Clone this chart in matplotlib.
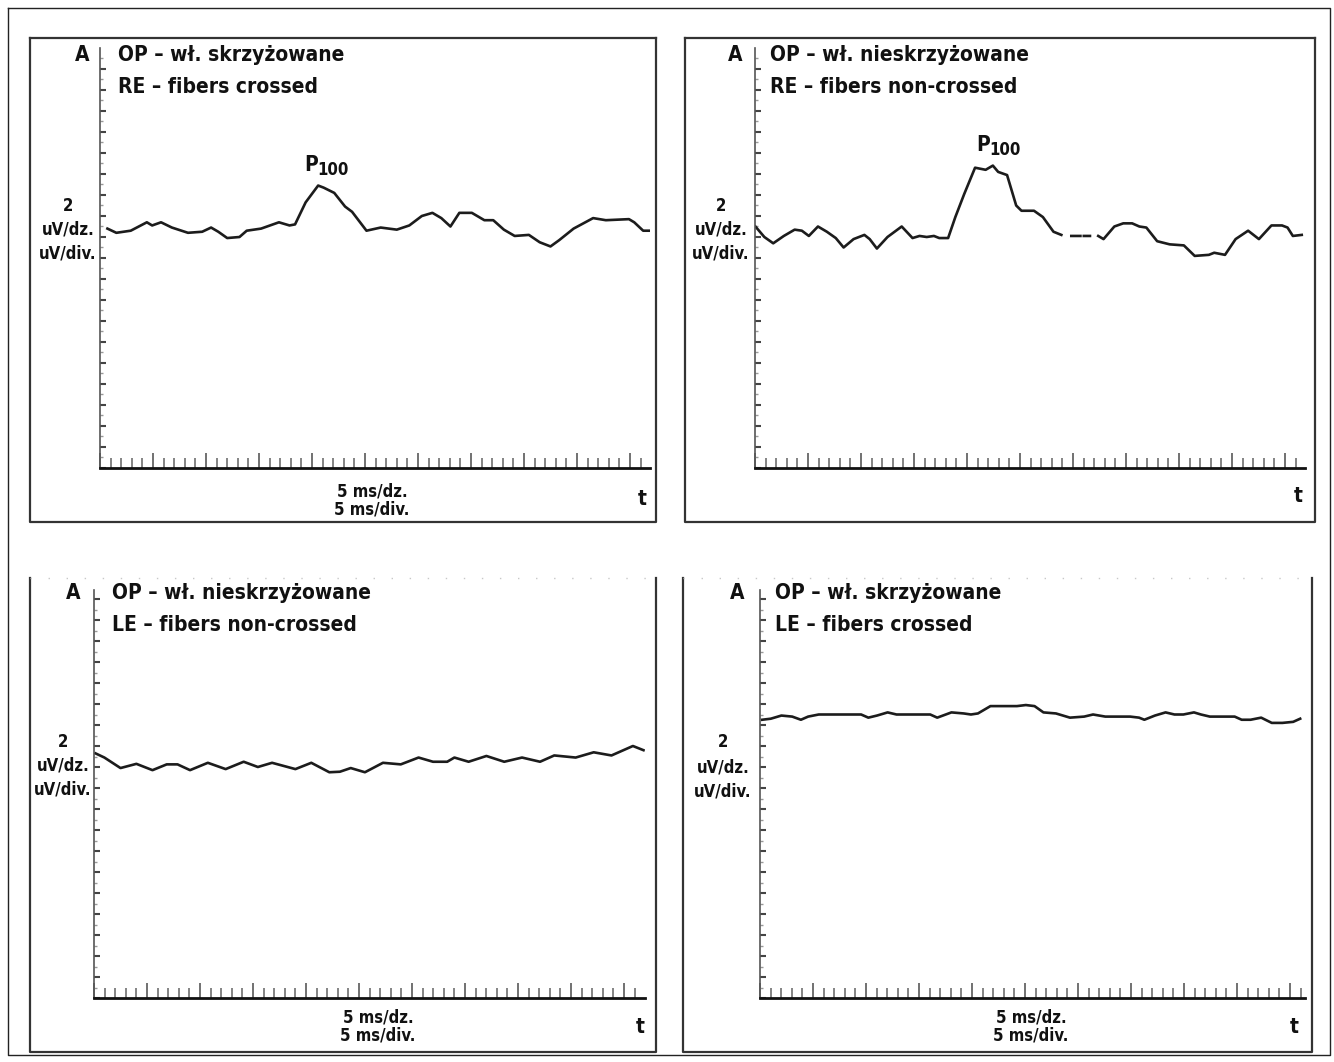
import os
import numpy as np
import matplotlib
matplotlib.use("Agg")
import matplotlib.pyplot as plt
from matplotlib import font_manager
from matplotlib.font_manager import FontProperties

W, H = 1334, 1062

# time in ms, amplitude in uV (measured from the time axis)
t_re_crossed = [3.5, 7.7, 14.5, 22.1, 24.6, 28.8, 33.9, 41.5, 48.2, 52.4, 55.8, 60.0, 65.8, 69.2,
                76.0, 84.4, 89.4, 92.0, 97.0, 102.9, 105.5, 110.5, 115.6, 118.9, 125.7, 132.4,
                140.0, 145.9, 151.8, 156.8, 161.0, 165.3, 169.5, 175.4, 181.3, 185.5, 190.5,
                195.6, 202.3, 207.4, 212.5, 216.6, 223.4, 232.6, 238.6, 249.5, 252.0, 256.2, 259.6]
a_re_crossed = [22.8, 22.4, 22.6, 23.4, 23.1, 23.4, 22.9, 22.4, 22.5, 22.9, 22.5, 21.9, 22.0, 22.6,
                22.8, 23.4, 23.1, 23.2, 25.3, 26.9, 26.7, 26.2, 24.9, 24.4, 22.6, 22.9,
                22.7, 23.1, 24.0, 24.3, 23.8, 23.0, 24.3, 24.3, 23.6, 23.6, 22.7,
                22.1, 22.2, 21.5, 21.1, 21.7, 22.8, 23.8, 23.6, 23.7, 23.4, 22.6, 22.6]

# nan = broken part of the recorded trace
t_re_noncrossed = [0.2, 4.4, 8.6, 13.6, 18.7, 22.1, 25.4, 29.7, 33.9, 38.1, 41.8, 46.5, 51.6, 54.1,
                   57.5, 62.5, 69.2, 74.3, 77.6, 81.0, 84.4, 86.9, 91.1, 94.5, 98.7, 103.8, 106.3,
                   108.8, 112.2, 114.7, 118.9, 123.2, 125.7, 131.6, 135.8, 140.8, 144.5, np.nan,
                   149.2, 153.5, np.nan, 155.1, 158.0, np.nan, 161.9, 164.4, 169.5, 173.7, 177.9,
                   181.3, 184.6, 189.7, 195.6, 202.3, 207.4, 214.1, 216.6, 221.7, 226.7, 232.6,
                   237.7, 243.6, 248.6, 251.2, 253.7, 257.9]
a_re_noncrossed = [23.0, 22.0, 21.4, 22.1, 22.7, 22.6, 22.1, 23.0, 22.5, 21.9, 21.0, 21.8, 22.2, 21.8,
                   20.9, 22.0, 23.0, 21.9, 22.1, 22.0, 22.1, 21.9, 21.9, 23.9, 26.1, 28.6, 28.5,
                   28.4, 28.8, 28.2, 27.9, 25.0, 24.5, 24.5, 23.9, 22.5, 22.2, np.nan,
                   22.1, 22.1, np.nan, 22.1, 22.1, np.nan, 22.1, 21.8, 23.0, 23.3, 23.3,
                   23.0, 22.9, 21.6, 21.3, 21.2, 20.2, 20.3, 20.5, 20.3, 21.8, 22.6,
                   21.8, 23.1, 23.1, 22.9, 22.1, 22.2]

t_le_noncrossed = [0.7, 4.9, 12.5, 20.0, 27.6, 34.3, 39.4, 45.3, 53.7, 62.1, 70.6, 77.3, 84.0, 95.0,
                   102.5, 111.0, 116.0, 121.1, 127.8, 136.3, 144.7, 153.1, 159.9, 166.6, 170.0,
                   176.7, 185.1, 193.5, 201.9, 210.4, 217.1, 227.2, 235.7, 244.1, 254.2, 259.2]
a_le_noncrossed = [23.3, 22.9, 21.9, 22.3, 21.7, 22.25, 22.25, 21.7, 22.4, 21.8, 22.5, 22.0, 22.4, 21.8,
                   22.4, 21.5, 21.55, 21.9, 21.5, 22.4, 22.25, 22.9, 22.5, 22.5, 22.9,
                   22.5, 23.05, 22.5, 22.9, 22.5, 23.1, 22.9, 23.4, 23.1, 24.0, 23.6]

t_le_crossed = [1.0, 5.1, 10.1, 15.2, 19.3, 22.7, 27.7, 33.5, 40.2, 47.7, 51.1, 55.2, 60.2, 64.4,
                71.1, 80.3, 83.6, 90.3, 96.1, 99.5, 102.8, 108.7, 114.5, 121.2, 125.4, 129.5,
                133.7, 139.6, 146.2, 152.9, 157.1, 162.9, 174.6, 178.8, 181.3, 186.3, 191.3,
                195.5, 199.7, 204.7, 208.0, 212.2, 223.9, 227.2, 231.4, 236.4, 241.4, 246.4,
                251.5, 254.8]
a_le_crossed = [26.5, 26.6, 26.9, 26.8, 26.5, 26.8, 27.0, 27.0, 27.0, 27.0, 26.7, 26.9, 27.2, 27.0,
                27.0, 27.0, 26.7, 27.2, 27.1, 27.0, 27.1, 27.8, 27.8, 27.8, 27.9, 27.8,
                27.2, 27.1, 26.7, 26.8, 27.0, 26.8, 26.8, 26.7, 26.5, 26.9, 27.2,
                27.0, 27.0, 27.2, 27.0, 26.8, 26.8, 26.5, 26.5, 26.7, 26.2, 26.2,
                26.3, 26.6]

titles = [("OP – wł. skrzyżowane", "RE – fibers crossed"),
          ("OP – wł. nieskrzyżowane", "RE – fibers non-crossed"),
          ("OP – wł. nieskrzyżowane", "LE – fibers non-crossed"),
          ("OP – wł. skrzyżowane", "LE – fibers crossed")]
amp_label = ["2", "uV/dz.", "uV/div."]
time_label = ["5 ms/dz.", "5 ms/div."]

# pick a bold condensed face if one is installed
preferred = ["LiberationSansNarrow-Bold.ttf", "NotoSans-CondensedBold.ttf",
             "OpenSans-CondensedBold.ttf", "OpenSansCondensed-Bold.ttf",
             "DejaVuSansCondensed-Bold.ttf"]
files = {os.path.basename(f.fname): f.fname for f in font_manager.fontManager.ttflist}
font_file = next((files[n] for n in preferred if n in files), None)
if font_file:
    FP = FontProperties(fname=font_file)
else:
    FP = FontProperties(family="DejaVu Sans", weight="bold", stretch="condensed")
condensed_noto = font_file is not None and "Noto" in font_file
SZ_TITLE = 15.5 if condensed_noto else 15
SZ_SMALL = 12.5 if condensed_noto else 12


def txt(x, y, s, size, ha="center", va="center"):
    fig.text(x / W, 1 - y / H, s, fontproperties=FP, fontsize=size, ha=ha, va=va, color="#111111")


fig = plt.figure(figsize=(W / 100, H / 100), dpi=100)


def frame_line(xs, ys, **kw):
    fig.add_artist(plt.Line2D([x / W for x in xs], [1 - y / H for y in ys],
                              transform=fig.transFigure, **kw))


# outer frame
frame_line([8, 8, 1330, 1330, 8], [8, 1055, 1055, 8, 8], color="#222222", lw=1.0)

# layout of each panel in pixels
panels = [
    dict(box=(30, 38, 656, 522), ax=(100, 468, 550, 420), t=t_re_crossed, a=a_re_crossed,
         A=(82, 55), title_x=118, title_y=(55, 87), amp=(68, (206, 230, 254)), ms=(372, 492, 510),
         tt=(642, 499), p100=(96.5, 28.9), faint_top=False),
    dict(box=(685, 38, 1315, 522), ax=(755, 468, 550, 420), t=t_re_noncrossed, a=a_re_noncrossed,
         A=(735, 55), title_x=770, title_y=(55, 87), amp=(721, (206, 230, 254)), ms=None,
         tt=(1298, 496), p100=(104.5, 30.8), faint_top=False),
    dict(box=(30, 578, 656, 1052), ax=(94, 998, 551, 408), t=t_le_noncrossed, a=a_le_noncrossed,
         A=(73, 593), title_x=112, title_y=(593, 625), amp=(63, (742, 766, 790)),
         ms=(378, 1017, 1036), tt=(640, 1027), p100=None, faint_top=True),
    dict(box=(683, 578, 1312, 1052), ax=(760, 998, 545, 408), t=t_le_crossed, a=a_le_crossed,
         A=(737, 593), title_x=775, title_y=(593, 625), amp=(723, (742, 767, 791)),
         ms=(1031, 1017, 1036), tt=(1294, 1027), p100=None, faint_top=True),
]

PX_PER_MS = 2.12
PX_PER_UV = 10.5

for i, p in enumerate(panels):
    x0, y0, x1, y1 = p['box']
    col = '#333333'
    frame_line([x0, x0, x1, x1], [y0, y1, y1, y0], color=col, lw=1.6)
    if p['faint_top']:
        frame_line([x0, x1], [y0, y0], color='#c8c8c8', lw=1.0, ls=(0, (1, 12)))
    else:
        frame_line([x0, x1], [y0, y0], color=col, lw=1.6)

    ax_x, ax_y, ax_w, ax_h = p['ax']
    ax = fig.add_axes([ax_x / W, 1 - ax_y / H, ax_w / W, ax_h / H])
    ax.patch.set_alpha(0)
    xmax = ax_w / PX_PER_MS
    ymax = ax_h / PX_PER_UV
    ax.set_xlim(0, xmax)
    ax.set_ylim(0, ymax)
    ax.plot(p['t'], p['a'], color='#1c1c1c', lw=1.9, solid_joinstyle='round')

    for s in ('top', 'right'):
        ax.spines[s].set_visible(False)
    ax.spines['left'].set_color('#555555')
    ax.spines['left'].set_linewidth(1.2)
    ax.spines['bottom'].set_color('#111111')
    ax.spines['bottom'].set_linewidth(2.0)

    ax.set_xticks(np.arange(0, xmax, 25))
    ax.set_xticks(np.arange(0, xmax, 5), minor=True)
    ax.set_yticks(np.arange(0, ymax, 2))
    ax.set_yticks(np.arange(0, ymax, 1), minor=True)
    ax.tick_params(axis='x', which='major', direction='in', length=11, width=1.3, color='#666666',
                   labelbottom=False)
    ax.tick_params(axis='x', which='minor', direction='in', length=7, width=1.2, color='#707070')
    ax.tick_params(axis='y', which='major', direction='in', length=4, width=1.5, color='#444444',
                   labelleft=False)
    ax.tick_params(axis='y', which='minor', direction='in', length=2.5, width=1.0, color='#999999')

    if p['p100']:
        ax.text(p['p100'][0], p['p100'][1], "P", fontproperties=FP, fontsize=SZ_TITLE,
                ha='left', va='center', color='#111111')
        ax.annotate("100", xy=p['p100'], xytext=(9, -4), textcoords='offset points',
                    fontproperties=FP, fontsize=SZ_SMALL, ha='left', va='center', color='#111111')

    txt(p['A'][0], p['A'][1], "A", SZ_TITLE)
    txt(p['title_x'], p['title_y'][0], titles[i][0], SZ_TITLE, ha='left')
    txt(p['title_x'], p['title_y'][1], titles[i][1], SZ_TITLE, ha='left')
    for lab, yy in zip(amp_label, p['amp'][1]):
        txt(p['amp'][0], yy, lab, SZ_SMALL)
    if p['ms']:
        for lab, yy in zip(time_label, p['ms'][1:]):
            txt(p['ms'][0], yy, lab, SZ_SMALL)
    txt(p['tt'][0], p['tt'][1], "t", SZ_TITLE)

fig.savefig("out.png", dpi=100)
